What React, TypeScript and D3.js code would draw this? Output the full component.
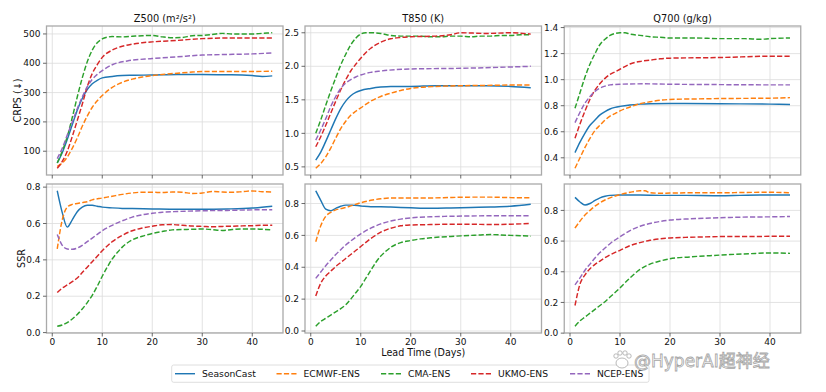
import React from 'react';
import * as d3 from 'd3';

type Pt = [number, number];

const models = ['SeasonCast', 'ECMWF-ENS', 'CMA-ENS', 'UKMO-ENS', 'NCEP-ENS'];
const colors = ['#1f77b4', '#ff7f0e', '#2ca02c', '#d62728', '#9467bd'];
const xTicks = [0, 10, 20, 30, 40];

// Z500 CRPS
const z500CrpsSeason: Pt[] = [[1, 60], [2, 95], [3, 140], [4, 190], [5, 240], [6, 280], [7, 310], [8, 330], [9, 342], [10, 350], [12, 355], [14, 358], [16, 359], [20, 360], [25, 362], [30, 362], [35, 361], [38, 360], [40, 358], [42, 355], [44, 357]];
const z500CrpsEcmwf: Pt[] = [[1, 48], [2, 60], [3, 80], [4, 110], [5, 145], [6, 185], [7, 220], [8, 250], [9, 272], [10, 290], [12, 318], [14, 335], [16, 346], [18, 353], [20, 358], [22, 362], [25, 366], [28, 370], [30, 372], [35, 372], [40, 372], [44, 373]];
const z500CrpsCma: Pt[] = [[1, 60], [2, 100], [3, 150], [4, 215], [5, 285], [6, 350], [7, 405], [8, 445], [9, 470], [10, 483], [11, 489], [12, 491], [14, 490], [16, 492], [18, 494], [20, 495], [22, 490], [24, 487], [26, 488], [28, 494], [30, 495], [32, 498], [34, 502], [36, 500], [38, 500], [40, 500], [42, 502], [44, 504]];
const z500CrpsUkmo: Pt[] = [[1, 42], [2, 65], [3, 100], [4, 150], [5, 205], [6, 260], [7, 320], [8, 365], [9, 395], [10, 420], [12, 445], [14, 458], [16, 465], [18, 470], [20, 473], [25, 478], [30, 484], [35, 486], [40, 486], [44, 486]];
const z500CrpsNcep: Pt[] = [[1, 75], [2, 110], [3, 155], [4, 200], [5, 245], [6, 285], [7, 320], [8, 345], [9, 362], [10, 375], [12, 395], [15, 408], [20, 416], [25, 422], [30, 428], [35, 430], [40, 432], [44, 435]];

// T850 CRPS
const t850CrpsSeason: Pt[] = [[1, 0.6], [2, 0.72], [3, 0.88], [4, 1.05], [5, 1.22], [6, 1.37], [7, 1.48], [8, 1.56], [9, 1.61], [10, 1.64], [12, 1.67], [14, 1.69], [16, 1.7], [20, 1.7], [25, 1.71], [30, 1.71], [35, 1.71], [40, 1.7], [44, 1.68]];
const t850CrpsEcmwf: Pt[] = [[1, 0.48], [2, 0.55], [3, 0.65], [4, 0.78], [5, 0.93], [6, 1.07], [7, 1.18], [8, 1.27], [9, 1.33], [10, 1.38], [12, 1.48], [14, 1.55], [16, 1.6], [18, 1.64], [20, 1.67], [25, 1.7], [30, 1.71], [35, 1.715], [40, 1.72], [44, 1.72]];
const t850CrpsCma: Pt[] = [[1, 1.0], [2, 1.2], [3, 1.42], [4, 1.63], [5, 1.83], [6, 2.02], [7, 2.18], [8, 2.32], [9, 2.42], [10, 2.48], [11, 2.5], [12, 2.5], [14, 2.49], [16, 2.46], [18, 2.45], [20, 2.45], [22, 2.45], [24, 2.44], [26, 2.44], [28, 2.45], [30, 2.45], [32, 2.44], [34, 2.45], [36, 2.45], [38, 2.46], [40, 2.46], [42, 2.47], [44, 2.47]];
const t850CrpsUkmo: Pt[] = [[1, 0.8], [2, 0.95], [3, 1.12], [4, 1.3], [5, 1.48], [6, 1.65], [7, 1.8], [8, 1.93], [9, 2.03], [10, 2.12], [12, 2.27], [14, 2.36], [16, 2.41], [18, 2.43], [20, 2.44], [25, 2.45], [28, 2.47], [30, 2.5], [35, 2.49], [40, 2.5], [44, 2.48]];
const t850CrpsNcep: Pt[] = [[1, 0.9], [2, 1.05], [3, 1.22], [4, 1.4], [5, 1.55], [6, 1.67], [7, 1.75], [8, 1.8], [9, 1.84], [10, 1.87], [12, 1.91], [14, 1.93], [20, 1.96], [30, 1.97], [40, 1.99], [44, 2.0]];

// Q700 CRPS
const q700CrpsSeason: Pt[] = [[1, 0.44], [2, 0.52], [3, 0.59], [4, 0.65], [5, 0.69], [6, 0.73], [7, 0.755], [8, 0.775], [9, 0.787], [10, 0.795], [12, 0.806], [14, 0.812], [16, 0.815], [20, 0.817], [30, 0.815], [40, 0.812], [44, 0.81]];
const q700CrpsEcmwf: Pt[] = [[1, 0.32], [2, 0.4], [3, 0.48], [4, 0.55], [5, 0.61], [6, 0.65], [7, 0.69], [8, 0.72], [9, 0.74], [10, 0.76], [12, 0.79], [14, 0.815], [16, 0.83], [18, 0.842], [20, 0.848], [25, 0.852], [30, 0.855], [40, 0.858], [44, 0.862]];
const q700CrpsCma: Pt[] = [[1, 0.78], [2, 0.9], [3, 1.02], [4, 1.12], [5, 1.2], [6, 1.27], [7, 1.31], [8, 1.34], [9, 1.355], [10, 1.36], [11, 1.36], [12, 1.35], [14, 1.34], [16, 1.33], [18, 1.325], [20, 1.32], [25, 1.32], [30, 1.315], [35, 1.315], [38, 1.31], [40, 1.315], [44, 1.32]];
const q700CrpsUkmo: Pt[] = [[1, 0.55], [2, 0.66], [3, 0.76], [4, 0.85], [5, 0.92], [6, 0.97], [7, 1.01], [8, 1.04], [9, 1.06], [10, 1.08], [12, 1.12], [14, 1.14], [16, 1.15], [18, 1.16], [20, 1.165], [30, 1.17], [40, 1.18], [44, 1.18]];
const q700CrpsNcep: Pt[] = [[1, 0.67], [2, 0.75], [3, 0.82], [4, 0.87], [5, 0.91], [6, 0.935], [7, 0.95], [8, 0.96], [10, 0.965], [15, 0.968], [20, 0.965], [30, 0.962], [40, 0.96], [44, 0.96]];

// Z500 SSR
const z500SsrSeason: Pt[] = [[1, 0.78], [2, 0.66], [3, 0.58], [4, 0.62], [5, 0.665], [6, 0.69], [7, 0.7], [8, 0.7], [9, 0.695], [10, 0.69], [12, 0.686], [14, 0.683], [16, 0.682], [20, 0.68], [25, 0.678], [30, 0.678], [35, 0.68], [40, 0.685], [44, 0.695]];
const z500SsrEcmwf: Pt[] = [[1, 0.46], [2, 0.62], [3, 0.69], [4, 0.705], [5, 0.71], [6, 0.715], [7, 0.72], [8, 0.73], [10, 0.74], [12, 0.75], [14, 0.76], [16, 0.768], [18, 0.772], [20, 0.772], [22, 0.77], [24, 0.773], [26, 0.772], [28, 0.765], [30, 0.768], [32, 0.776], [34, 0.773], [36, 0.772], [38, 0.775], [40, 0.779], [42, 0.775], [44, 0.773]];
const z500SsrCma: Pt[] = [[1, 0.035], [2, 0.042], [3, 0.055], [4, 0.075], [5, 0.1], [6, 0.13], [7, 0.165], [8, 0.205], [9, 0.255], [10, 0.31], [11, 0.36], [12, 0.405], [13, 0.44], [14, 0.47], [16, 0.51], [18, 0.53], [20, 0.545], [22, 0.556], [24, 0.565], [26, 0.567], [28, 0.568], [30, 0.57], [32, 0.566], [34, 0.562], [36, 0.567], [38, 0.57], [40, 0.57], [42, 0.568], [44, 0.565]];
const z500SsrUkmo: Pt[] = [[1, 0.22], [2, 0.245], [3, 0.262], [4, 0.28], [5, 0.3], [6, 0.33], [7, 0.36], [8, 0.39], [9, 0.42], [10, 0.45], [12, 0.5], [14, 0.535], [16, 0.56], [18, 0.575], [20, 0.585], [22, 0.593], [24, 0.594], [26, 0.59], [28, 0.586], [30, 0.584], [32, 0.582], [34, 0.584], [36, 0.585], [38, 0.587], [40, 0.588], [42, 0.59], [44, 0.59]];
const z500SsrNcep: Pt[] = [[1, 0.54], [2, 0.48], [3, 0.46], [4, 0.458], [5, 0.465], [6, 0.48], [7, 0.5], [8, 0.52], [9, 0.54], [10, 0.56], [12, 0.59], [14, 0.615], [16, 0.635], [18, 0.648], [20, 0.656], [22, 0.662], [25, 0.666], [30, 0.67], [35, 0.672], [40, 0.675], [44, 0.676]];

// T850 SSR
const t850SsrSeason: Pt[] = [[1, 0.88], [2, 0.82], [3, 0.765], [4, 0.755], [5, 0.77], [6, 0.783], [7, 0.79], [8, 0.79], [10, 0.785], [12, 0.78], [14, 0.78], [16, 0.778], [18, 0.775], [20, 0.773], [24, 0.77], [28, 0.772], [32, 0.775], [36, 0.778], [40, 0.783], [44, 0.795]];
const t850SsrEcmwf: Pt[] = [[1, 0.56], [2, 0.66], [3, 0.72], [4, 0.745], [5, 0.76], [6, 0.768], [7, 0.775], [8, 0.785], [10, 0.805], [12, 0.82], [14, 0.83], [16, 0.835], [20, 0.835], [24, 0.835], [28, 0.838], [32, 0.84], [36, 0.84], [40, 0.837], [44, 0.836]];
const t850SsrCma: Pt[] = [[1, 0.03], [2, 0.06], [3, 0.08], [4, 0.1], [5, 0.12], [6, 0.14], [7, 0.165], [8, 0.2], [9, 0.24], [10, 0.28], [11, 0.33], [12, 0.38], [13, 0.43], [14, 0.47], [15, 0.5], [16, 0.525], [18, 0.555], [20, 0.568], [22, 0.578], [24, 0.585], [26, 0.59], [28, 0.593], [30, 0.597], [32, 0.6], [34, 0.603], [36, 0.605], [38, 0.603], [40, 0.6], [42, 0.598], [44, 0.595]];
const t850SsrUkmo: Pt[] = [[1, 0.22], [2, 0.3], [3, 0.345], [4, 0.375], [5, 0.405], [6, 0.43], [7, 0.455], [8, 0.48], [10, 0.53], [12, 0.58], [14, 0.62], [16, 0.645], [18, 0.66], [20, 0.665], [24, 0.668], [28, 0.67], [32, 0.67], [36, 0.668], [40, 0.67], [44, 0.675]];
const t850SsrNcep: Pt[] = [[1, 0.33], [2, 0.37], [3, 0.41], [4, 0.445], [5, 0.48], [6, 0.51], [7, 0.54], [8, 0.565], [10, 0.61], [12, 0.645], [14, 0.672], [16, 0.69], [18, 0.702], [20, 0.71], [24, 0.717], [28, 0.72], [32, 0.722], [36, 0.723], [40, 0.723], [44, 0.723]];

// Q700 SSR
const q700SsrSeason: Pt[] = [[1, 0.885], [2, 0.855], [3, 0.835], [4, 0.845], [5, 0.865], [6, 0.882], [7, 0.892], [8, 0.898], [10, 0.9], [14, 0.9], [18, 0.898], [22, 0.898], [26, 0.897], [30, 0.896], [34, 0.898], [38, 0.9], [42, 0.9], [44, 0.9]];
const q700SsrEcmwf: Pt[] = [[1, 0.685], [2, 0.73], [3, 0.77], [4, 0.8], [5, 0.828], [6, 0.85], [7, 0.868], [8, 0.882], [10, 0.903], [12, 0.918], [14, 0.928], [15, 0.928], [16, 0.915], [18, 0.912], [20, 0.913], [25, 0.915], [30, 0.915], [35, 0.917], [40, 0.918], [44, 0.915]];
const q700SsrCma: Pt[] = [[1, 0.045], [2, 0.08], [3, 0.105], [4, 0.13], [5, 0.155], [6, 0.18], [7, 0.205], [8, 0.235], [10, 0.295], [12, 0.36], [14, 0.415], [16, 0.45], [18, 0.47], [20, 0.485], [24, 0.497], [28, 0.505], [32, 0.512], [36, 0.518], [40, 0.523], [44, 0.52]];
const q700SsrUkmo: Pt[] = [[1, 0.18], [2, 0.32], [3, 0.38], [4, 0.42], [5, 0.448], [6, 0.47], [7, 0.492], [8, 0.51], [10, 0.54], [12, 0.57], [14, 0.59], [16, 0.605], [18, 0.615], [20, 0.62], [24, 0.625], [28, 0.628], [32, 0.63], [36, 0.63], [40, 0.631], [44, 0.632]];
const q700SsrNcep: Pt[] = [[1, 0.315], [2, 0.36], [3, 0.41], [4, 0.45], [5, 0.49], [6, 0.525], [7, 0.555], [8, 0.583], [10, 0.628], [12, 0.668], [14, 0.697], [16, 0.715], [18, 0.728], [20, 0.737], [24, 0.745], [28, 0.75], [32, 0.754], [36, 0.757], [40, 0.758], [44, 0.76]];

const titles = ['Z500 (m\u00b2/s\u00b2)', 'T850 (K)', 'Q700 (g/kg)'];
const rowLabels = ['CRPS (\u2193)', 'SSR'];
const yTicksTop = [[100, 200, 300, 400, 500], [0.5, 1.0, 1.5, 2.0, 2.5], [0.4, 0.6, 0.8, 1.0, 1.2, 1.4]];
const yTicksSsr = [0, 0.2, 0.4, 0.6, 0.8];

const panels = [
  { row: 0, col: 0, series: [z500CrpsSeason, z500CrpsEcmwf, z500CrpsCma, z500CrpsUkmo, z500CrpsNcep], ticks: yTicksTop[0], fmt: d3.format('d') },
  { row: 0, col: 1, series: [t850CrpsSeason, t850CrpsEcmwf, t850CrpsCma, t850CrpsUkmo, t850CrpsNcep], ticks: yTicksTop[1], fmt: d3.format('.1f') },
  { row: 0, col: 2, series: [q700CrpsSeason, q700CrpsEcmwf, q700CrpsCma, q700CrpsUkmo, q700CrpsNcep], ticks: yTicksTop[2], fmt: d3.format('.1f') },
  { row: 1, col: 0, series: [z500SsrSeason, z500SsrEcmwf, z500SsrCma, z500SsrUkmo, z500SsrNcep], ticks: yTicksSsr, fmt: d3.format('.1f') },
  { row: 1, col: 1, series: [t850SsrSeason, t850SsrEcmwf, t850SsrCma, t850SsrUkmo, t850SsrNcep], ticks: yTicksSsr, fmt: d3.format('.1f') },
  { row: 1, col: 2, series: [q700SsrSeason, q700SsrEcmwf, q700SsrCma, q700SsrUkmo, q700SsrNcep], ticks: yTicksSsr, fmt: d3.format('.1f') },
];

const W = 826;
const H = 392;
const colX = [46.5, 305, 564.25];
const rowY = [26, 184];
const pw = 236.5;
const ph = 149;
const font = 'DejaVu Sans, sans-serif';
const dash = '5.2,2.2';

const Panel = ({ p }: { p: typeof panels[number] }) => {
  const x0 = colX[p.col];
  const y0 = rowY[p.row];
  const x = d3.scaleLinear().domain([-1.15, 46.15]).range([0, pw]);
  const all = p.series.flat().map(d => d[1]);
  const [lo, hi] = d3.extent(all) as [number, number];
  const m = (hi - lo) * 0.05;
  const y = d3.scaleLinear().domain([lo - m, hi + m]).range([ph, 0]);
  const line = d3.line<Pt>().x(d => x(d[0])).y(d => y(d[1])).curve(d3.curveMonotoneX);

  return (
    <g transform={`translate(${x0},${y0})`}>
      {xTicks.map(t => (
        <line key={'gx' + t} x1={x(t)} x2={x(t)} y1={0} y2={ph} stroke="#dcdcdc" strokeWidth={0.8} />
      ))}
      {p.ticks.map(t => (
        <line key={'gy' + t} x1={0} x2={pw} y1={y(t)} y2={y(t)} stroke="#dcdcdc" strokeWidth={0.8} />
      ))}
      {p.series.map((s, i) => (
        <path key={i} d={line(s) || ''} fill="none" stroke={colors[i]} strokeWidth={1.45}
          strokeDasharray={i === 0 ? undefined : dash} />
      ))}
      <rect x={0} y={0} width={pw} height={ph} fill="none" stroke="#aaaaaa" strokeWidth={1.3} />
      {xTicks.map(t => (
        <g key={'tx' + t}>
          <line x1={x(t)} x2={x(t)} y1={ph} y2={ph + 3.5} stroke="#444" strokeWidth={0.8} />
          {p.row === 1 && (
            <text x={x(t)} y={ph + 11.5} textAnchor="middle" fontSize={9} fontFamily={font} fill="#111">{t}</text>
          )}
        </g>
      ))}
      {p.ticks.map(t => (
        <g key={'ty' + t}>
          <line x1={-3.5} x2={0} y1={y(t)} y2={y(t)} stroke="#444" strokeWidth={0.8} />
          <text x={-6} y={y(t)} dy="0.35em" textAnchor="end" fontSize={9} fontFamily={font} fill="#111">{p.fmt(t)}</text>
        </g>
      ))}
      {p.row === 0 && (
        <text x={pw / 2} y={-4.5} textAnchor="middle" fontSize={9.8} fontFamily={font} fill="#111">{titles[p.col]}</text>
      )}
    </g>
  );
};

const legendX = [175, 276.5, 381, 471, 570];

export default function App() {
  return (
    <svg width={W} height={H} viewBox={`0 0 ${W} ${H}`}
      style={{ position: 'absolute', left: 0, top: 0, background: '#fff', display: 'block' }}>
      <rect width={W} height={H} fill="#fff" />
      {panels.map((p, i) => <Panel key={i} p={p} />)}
      <text transform={`translate(18,${rowY[0] + ph / 2}) rotate(-90)`} dy="0.35em" textAnchor="middle"
        fontSize={9.6} fontFamily={font} fill="#111">{rowLabels[0]}</text>
      <text transform={`translate(22,${rowY[1] + ph / 2}) rotate(-90)`} dy="0.35em" textAnchor="middle"
        fontSize={9.6} fontFamily={font} fill="#111">{rowLabels[1]}</text>
      <text x={colX[1] + pw / 2} y={356} textAnchor="middle" fontSize={9.6} fontFamily={font} fill="#111">Lead Time (Days)</text>
      <rect x={171.7} y={365} width={477.3} height={17.3} rx={2} fill="#fff" fillOpacity={0.8} stroke="#d6d6d6" strokeWidth={0.8} />
      {models.map((name, i) => (
        <g key={name}>
          <line x1={legendX[i]} x2={legendX[i] + 20} y1={373.7} y2={373.7} stroke={colors[i]} strokeWidth={1.45}
            strokeDasharray={i === 0 ? undefined : dash} />
          <text x={legendX[i] + 27} y={373.7} dy="0.35em" fontSize={9.2} fontFamily={font} fill="#111">{name}</text>
        </g>
      ))}
      <g opacity={0.9}>
        <g transform="translate(622,360)" fill="#fff" stroke="#a0a0a0" strokeWidth={0.8}>
          <ellipse cx={0} cy={3} rx={6} ry={5} />
          <circle cx={-6} cy={-4} r={2.2} />
          <circle cx={-2} cy={-7} r={2.2} />
          <circle cx={3} cy={-7} r={2.2} />
          <circle cx={7} cy={-4} r={2.2} />
        </g>
        <text x={634} y={367} fontSize={17} fontFamily="DejaVu Sans, 'Noto Sans CJK SC', sans-serif"
          fill="#fff" stroke="#9c9c9c" strokeWidth={0.8}>@HyperAI超神经</text>
      </g>
    </svg>
  );
}
